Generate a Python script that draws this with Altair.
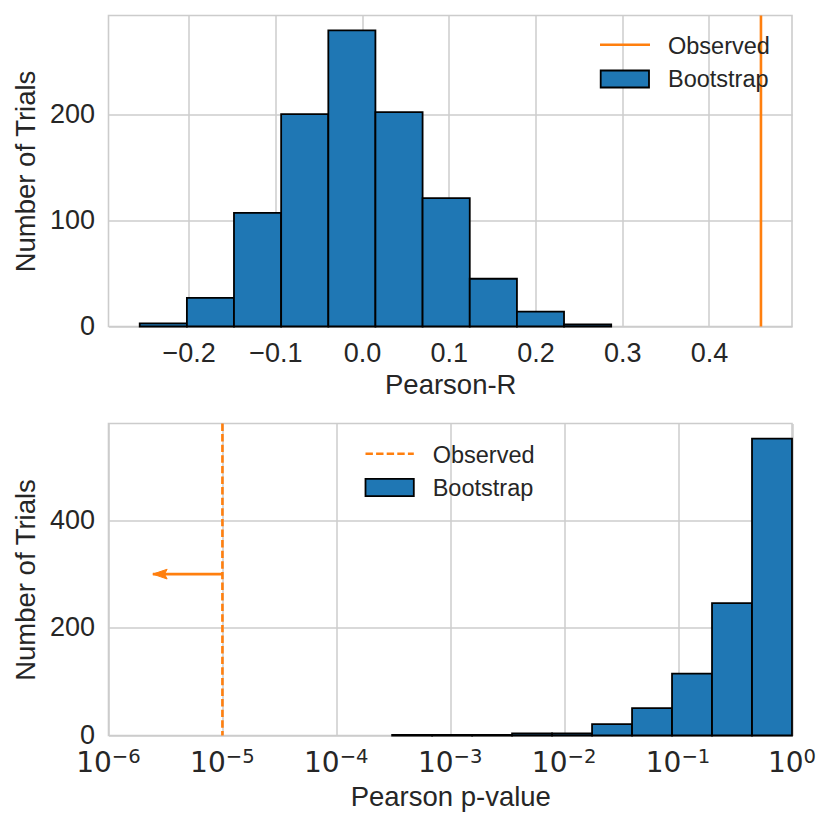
import altair as alt
import pandas as pd

# ---------------- data ----------------
r_edges = [-0.2564, -0.2020, -0.1477, -0.0933, -0.0389, 0.0154,
           0.0698, 0.1242, 0.1786, 0.2329, 0.2873]
r_counts = [3, 27, 107, 200, 279, 202, 121, 45, 14, 2]
observed_r = 0.46

p_edges = [3.09e-4, 6.93e-4, 1.556e-3, 3.49e-3, 7.83e-3, 0.01758,
           0.03945, 0.0885, 0.1986, 0.4457, 1.0]
p_counts = [1, 1, 1, 4, 4, 21, 51, 115, 246, 552]
observed_p = 1e-5
arrow_tip_p = 2.45e-6
arrow_y = 300

r_ticks = [-0.2, -0.1, 0.0, 0.1, 0.2, 0.3, 0.4]
count_ticks_top = [0, 100, 200]
count_ticks_bottom = [0, 200, 400]
p_ticks = [1e-6, 1e-5, 1e-4, 1e-3, 1e-2, 1e-1, 1]
p_tick_base = ["10", "10", "10", "10", "10", "10", "10"]
p_tick_exponents = ["−6", "−5", "−4", "−3", "−2", "−1", "0"]
legend_labels = ["Observed", "Bootstrap"]

# ---------------- style ----------------
BLUE = "#1f77b4"
ORANGE = "#ff7f0e"
TXT = "#262626"
GRID = "#cccccc"
FONT = "Liberation Sans"
MATH_FONT = "DejaVu Sans"
W = 683.5
H_TOP = 311
H_BOT = 312
TICK_FS = 27
TITLE_FS = 27.5
LEG_FS = 23.5

top_df = pd.DataFrame({"lo": r_edges[:-1], "hi": r_edges[1:], "count": r_counts})
bot_df = pd.DataFrame({"lo": p_edges[:-1], "hi": p_edges[1:], "count": p_counts})
tick_df = pd.DataFrame({"p": p_ticks, "base": p_tick_base, "exp": p_tick_exponents})

one = alt.Data(values=[{"k": 1}])


def legend_layers(line_x, line_y, box_x, box_y, text_x, text_y, dash):
    rule_kwargs = dict(color=ORANGE, strokeWidth=2.6)
    if dash:
        rule_kwargs["strokeDash"] = [7.4, 3.2]
    lr = alt.Chart(one).mark_rule(**rule_kwargs).encode(
        x=alt.value(line_x[0]), x2=alt.value(line_x[1]), y=alt.value(line_y))
    lb = alt.Chart(one).mark_rect(fill=BLUE, stroke="black", strokeWidth=1.8).encode(
        x=alt.value(box_x[0]), x2=alt.value(box_x[1]),
        y=alt.value(box_y[0]), y2=alt.value(box_y[1]))
    t1 = alt.Chart(one).mark_text(align="left", baseline="middle", font=FONT,
                                  fontSize=LEG_FS, color=TXT).encode(
        x=alt.value(text_x), y=alt.value(text_y[0]), text=alt.value(legend_labels[0]))
    t2 = alt.Chart(one).mark_text(align="left", baseline="middle", font=FONT,
                                  fontSize=LEG_FS, color=TXT).encode(
        x=alt.value(text_x), y=alt.value(text_y[1]), text=alt.value(legend_labels[1]))
    return [lr, lb, t1, t2]


# ---------------- top panel ----------------
xr = alt.Scale(domain=[-0.2924, 0.4958], nice=False, zero=False)
yt = alt.Scale(domain=[0, 293], nice=False)

bars_top = alt.Chart(top_df).mark_rect(fill=BLUE, stroke="black", strokeWidth=1.8).encode(
    x=alt.X("lo:Q", scale=xr,
            axis=alt.Axis(values=r_ticks, format=".1f", title="Pearson-R",
                          labelFlush=False, titlePadding=5)),
    x2="hi:Q",
    y=alt.Y("count:Q", scale=yt,
            axis=alt.Axis(values=count_ticks_top, title="Number of Trials")),
    y2=alt.datum(0),
)
obs_top = alt.Chart(pd.DataFrame({"r": [observed_r]})).mark_rule(
    color=ORANGE, strokeWidth=2.6).encode(x=alt.X("r:Q", scale=xr))

top = alt.layer(
    bars_top, obs_top,
    *legend_layers((491.5, 541.5), 29.3, (492.2, 540.5), (55, 72), 559.5, (31.5, 64.5), False)
).properties(width=W, height=H_TOP)

# ---------------- bottom panel ----------------
xp = alt.Scale(type="log", domain=[1e-6, 1], nice=False)
yb = alt.Scale(domain=[0, 580], nice=False)

bars_bot = alt.Chart(bot_df).mark_rect(fill=BLUE, stroke="black", strokeWidth=1.8).encode(
    x=alt.X("lo:Q", scale=xp,
            axis=alt.Axis(values=p_ticks, labels=False, title="Pearson p-value",
                          titlePadding=48)),
    x2="hi:Q",
    y=alt.Y("count:Q", scale=yb,
            axis=alt.Axis(values=count_ticks_bottom, title="Number of Trials")),
    y2=alt.datum(0),
)
obs_bot = alt.Chart(pd.DataFrame({"p": [observed_p]})).mark_rule(
    color=ORANGE, strokeWidth=2.6, strokeDash=[7.4, 3.2]).encode(x=alt.X("p:Q", scale=xp))

arrow_df = pd.DataFrame({"x0": [observed_p], "x1": [arrow_tip_p], "y": [arrow_y]})
arrow_line = alt.Chart(arrow_df).mark_rule(color=ORANGE, strokeWidth=2.8).encode(
    x=alt.X("x0:Q", scale=xp), x2="x1:Q", y=alt.Y("y:Q", scale=yb))
arrow_head = alt.Chart(arrow_df).mark_point(
    shape="M0,0L2.2,-0.75L1.8,0L2.2,0.75Z", filled=True, fill=ORANGE, stroke=ORANGE,
    strokeWidth=1, opacity=1, size=169).encode(
    x=alt.X("x1:Q", scale=xp), y=alt.Y("y:Q", scale=yb))

# mathtext-like tick labels: "10" plus a raised, smaller exponent
MAIN_FS = 28
SUP_FS = 19.6
BASE_Y = H_BOT + 36.7
SUP_Y = H_BOT + 27.3
neg = alt.FieldOneOfPredicate(field="exp", oneOf=p_tick_exponents[:-1])
zero = alt.FieldEqualPredicate(field="exp", equal=p_tick_exponents[-1])


def tick_text(pred, dx):
    base = alt.Chart(tick_df).transform_filter(pred).mark_text(
        align="right", baseline="alphabetic", font=MATH_FONT, fontSize=MAIN_FS,
        color=TXT, dx=dx).encode(
        x=alt.X("p:Q", scale=xp), y=alt.value(BASE_Y), text="base:N")
    sup = alt.Chart(tick_df).transform_filter(pred).mark_text(
        align="left", baseline="alphabetic", font=MATH_FONT, fontSize=SUP_FS,
        color=TXT, dx=dx).encode(
        x=alt.X("p:Q", scale=xp), y=alt.value(SUP_Y), text="exp:N")
    return [base, sup]


bottom = alt.layer(
    bars_bot, obs_bot, arrow_line, arrow_head,
    *tick_text(neg, 3.3), *tick_text(zero, 11.6),
    *legend_layers((257, 305.3), 30.3, (257, 305.3), (55.3, 72.7), 324.2, (32, 65.3), True)
).properties(width=W, height=H_BOT)

chart = alt.vconcat(top, bottom, spacing=20).configure_view(
    stroke=GRID, strokeWidth=1.6
).configure_axis(
    grid=True, gridColor=GRID, gridWidth=1.5, domain=False, ticks=False,
    labelFont=FONT, labelFontSize=TICK_FS, labelColor=TXT, labelPadding=14,
    titleFont=FONT, titleFontSize=TITLE_FS, titleColor=TXT, titleFontWeight="normal",
    titlePadding=9,
).properties(
    padding={"left": 3.5, "top": 4.5, "right": 5, "bottom": 5},
    background="white",
)

chart.save("out.html", embed_options={"renderer": "svg", "actions": False})
